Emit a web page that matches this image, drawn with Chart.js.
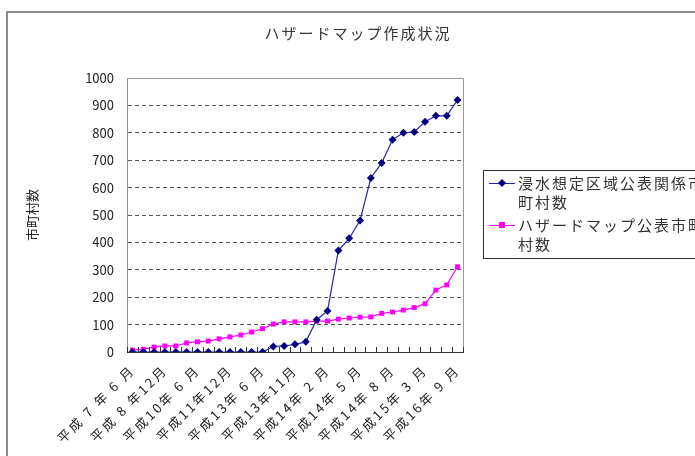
<!DOCTYPE html>
<html>
<head>
<meta charset="utf-8">
<script src="https://cdn.jsdelivr.net/npm/chart.js@4"></script>
<style>
  body { margin: 0; background: #fff; overflow: hidden; }
  #wrap { width: 695px; height: 456px; position: relative; }
</style>
</head>
<body>
<div id="wrap"><canvas id="lineChart"></canvas></div>
<script>
//chart text
var chartTitle = 'ハザードマップ作成状況';
var yTitle = '市町村数';

//categories (only every 3rd one is labelled on the axis)
var categories = [
    '平成 7 年 6 月', '', '', '平成 8 年12月', '', '', '平成10年 6 月', '', '',
    '平成11年12月', '', '', '平成13年 6 月', '', '', '平成13年11月', '', '',
    '平成14年 2 月', '', '', '平成14年 5 月', '', '', '平成14年 8 月', '', '',
    '平成15年 3 月', '', '', '平成16年 9 月'
];

//series
var seriesNames = ['浸水想定区域公表関係市町村数', 'ハザードマップ公表市町村数'];
var floodAreaCounts = [0, 0, 0, 0, 0, 0, 0, 0, 0, 0, 0, 0, 0, 20, 22, 28, 37, 118, 150, 370, 415, 480, 635, 690, 775, 800, 803, 840, 862, 862, 920];
var hazardMapCounts = [7, 10, 18, 22, 22, 33, 37, 40, 48, 55, 62, 73, 85, 102, 110, 110, 110, 113, 113, 120, 124, 127, 128, 141, 146, 153, 162, 176, 226, 245, 311];

//y ticks
var yMin = 0;
var yMax = 1000;
var yStep = 100;

var fontFamily = "'Noto Sans CJK JP', 'Noto Sans', sans-serif";
Chart.defaults.font.family = fontFamily;

//frame, title, inner tick marks and wrapped legend (excel style)
var excelLook = {
    id: 'excelLook',
    beforeDraw: function (chart) {
        var ctx = chart.ctx;
        ctx.letterSpacing = '0px';
        ctx.save();
        ctx.fillStyle = '#fff';
        ctx.fillRect(0, 0, chart.width, chart.height);
        ctx.strokeStyle = '#8c8c8c';
        ctx.lineWidth = 2;
        ctx.strokeRect(7, 12, 900, 700);
        ctx.fillStyle = '#333';
        ctx.font = '15px ' + fontFamily;
        ctx.letterSpacing = '2px';
        ctx.textAlign = 'center';
        ctx.textBaseline = 'middle';
        ctx.fillText(chartTitle, 358, 33);
        ctx.restore();
    },
    //x tick labels are drawn after the datasets (ticks.z: 1), wider spacing for them
    afterDatasetsDraw: function (chart) {
        chart.ctx.letterSpacing = '2.5px';
    },
    afterDraw: function (chart) {
        var ctx = chart.ctx;
        var area = chart.chartArea;
        var xs = chart.scales.x;
        ctx.letterSpacing = '0px';
        ctx.save();
        //plot frame
        ctx.strokeStyle = '#9a9a9a';
        ctx.lineWidth = 1;
        ctx.beginPath();
        ctx.moveTo(area.left, area.top + 0.5);
        ctx.lineTo(area.right + 0.5, area.top + 0.5);
        ctx.lineTo(area.right + 0.5, area.bottom);
        ctx.stroke();
        //tick marks between categories
        ctx.strokeStyle = '#333';
        ctx.beginPath();
        var half = (xs.getPixelForValue(1) - xs.getPixelForValue(0)) / 2;
        for (var i = 0; i <= categories.length; i++) {
            var px = i < categories.length ? xs.getPixelForValue(i) - half : area.right;
            px = Math.round(px) + 0.5;
            ctx.moveTo(px, area.bottom - 5);
            ctx.lineTo(px, area.bottom);
        }
        ctx.stroke();
        //legend box
        var bx = 483, by = 170;
        ctx.strokeStyle = '#333';
        ctx.strokeRect(bx + 0.5, by + 0.5, 400, 88);
        ctx.font = '15px ' + fontFamily;
        ctx.letterSpacing = '2px';
        ctx.textAlign = 'left';
        ctx.textBaseline = 'middle';
        var rowsY = [183, 225];
        chart.data.datasets.forEach(function (ds, k) {
            var y = rowsY[k];
            ctx.strokeStyle = ds.borderColor;
            ctx.lineWidth = 1;
            ctx.beginPath();
            ctx.moveTo(489, y + 0.5);
            ctx.lineTo(515, y + 0.5);
            ctx.stroke();
            ctx.fillStyle = ds.pointBackgroundColor;
            ctx.beginPath();
            if (ds.pointStyle === 'rectRot') {
                ctx.moveTo(502, y - 4); ctx.lineTo(506, y); ctx.lineTo(502, y + 4); ctx.lineTo(498, y);
            } else {
                ctx.rect(499, y - 3, 6, 6);
            }
            ctx.fill();
            ctx.fillStyle = '#333';
            var text = ds.label;
            ctx.fillText(text.slice(0, 11), 518, y);
            ctx.fillText(text.slice(11), 518, y + 19);
        });
        ctx.restore();
        ctx.letterSpacing = '0px';
    }
};

var lineContext = document.getElementById('lineChart').getContext('2d');

var lineData = {
    labels: categories,
    datasets: [{
        label: seriesNames[0],
        data: floodAreaCounts,
        borderColor: '#2828b4',
        borderWidth: 1.2,
        pointStyle: 'rectRot',
        pointRadius: 4,
        pointBackgroundColor: '#000080',
        pointBorderColor: '#000080',
        pointBorderWidth: 0,
        tension: 0
    }, {
        label: seriesNames[1],
        data: hazardMapCounts,
        borderColor: '#ff00ff',
        borderWidth: 1.2,
        pointStyle: 'rect',
        pointRadius: 3.5,
        pointBackgroundColor: '#ff00ff',
        pointBorderColor: '#ff00ff',
        pointBorderWidth: 0,
        tension: 0
    }]
};

var lineOptions = {
    responsive: true,
    maintainAspectRatio: false,
    animation: false,
    layout: { padding: { left: 20, right: 232, top: 78, bottom: 0 } },
    plugins: {
        legend: { display: false },
        title: { display: false },
        tooltip: { enabled: false }
    },
    scales: {
        x: {
            offset: true,
            grid: { display: false },
            border: { display: true, color: '#333', width: 1, z: 1 },
            ticks: {
                z: 1,
                autoSkip: false,
                minRotation: 45,
                maxRotation: 45,
                padding: 2,
                color: '#222',
                font: { size: 13 }
            },
            afterFit: function (scale) { scale.height = 104; }
        },
        y: {
            min: yMin,
            max: yMax,
            grid: {
                drawTicks: false,
                color: function (c) { return (c.tick && (c.tick.value === yMax || c.tick.value === yMin)) ? 'rgba(0,0,0,0)' : '#555'; }
            },
            border: { display: true, color: '#8c8c8c', dash: [4, 3] },
            ticks: {
                stepSize: yStep,
                padding: 13,
                color: '#222',
                font: { size: 13 },
                callback: function (value) { return String(value); }
            },
            title: { display: true, text: yTitle, color: '#222', font: { size: 13 }, padding: 4 },
            afterFit: function (scale) { scale.width = 107; }
        }
    }
};

var lineChart = new Chart(lineContext, {
    type: 'line',
    data: lineData,
    options: lineOptions,
    plugins: [excelLook]
});
</script>
</body>
</html>
